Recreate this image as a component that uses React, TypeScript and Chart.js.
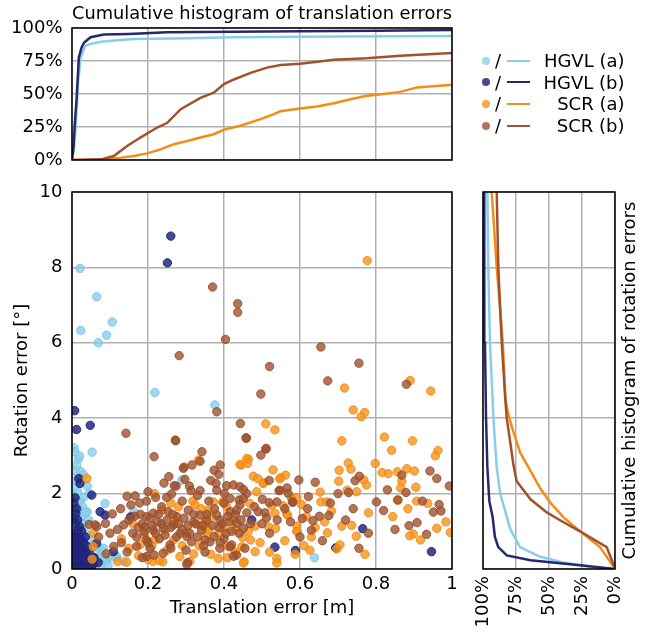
import React, { useEffect, useRef } from 'react';
import { Chart, registerables } from 'chart.js';
Chart.register(...registerables);

const FONT = "'DejaVu Sans', sans-serif";
const FS = 18;

const SERIES_LABELS = ['HGVL (a)', 'HGVL (b)', 'SCR (a)', 'SCR (b)'];
const TOP_TITLE = 'Cumulative histogram of translation errors';
const RIGHT_TITLE = 'Cumulative histogram of rotation errors';
const X_TITLE = 'Translation error [m]';
const Y_TITLE = 'Rotation error [°]';

const LINE_COLORS = ['#87ceeb', '#24286e', '#f58c14', '#a0522d'];
const POINT_FILL = ['rgba(135,206,235,0.8)', 'rgba(36,40,130,0.85)', 'rgba(247,146,26,0.8)', 'rgba(160,82,45,0.8)'];
const POINT_EDGE = ['rgba(120,195,228,0.9)', 'rgba(30,34,115,0.9)', 'rgba(240,135,15,0.85)', 'rgba(150,75,40,0.85)'];

// cumulative histogram of translation errors: [translation error, percent]
const transHGVLa = [[0,0],[0.005,8],[0.01,26],[0.016,59],[0.023,77.7],[0.03,83],[0.036,86.6],[0.05,88],[0.076,89.6],[0.12,90.8],[0.163,91.6],[0.3,92.3],[0.426,93],[0.7,93.5],[1,94]];
const transHGVLb = [[0,0],[0.004,10],[0.007,26],[0.012,46],[0.018,77.7],[0.025,85],[0.032,89],[0.049,93],[0.084,95],[0.15,95.5],[0.25,96.7],[0.6,97.5],[0.8,98],[1,98.5]];
const transSCRa = [[0,0],[0.08,0],[0.1,1],[0.13,1.8],[0.163,3],[0.198,5],[0.233,8],[0.268,12],[0.303,14.4],[0.338,17],[0.373,19.5],[0.4,23],[0.443,26],[0.496,31],[0.531,34.7],[0.549,37],[0.6,39],[0.645,40.5],[0.689,43],[0.733,46],[0.776,48.6],[0.82,50],[0.864,51.6],[0.908,55],[1,57]];
const transSCRb = [[0,0],[0.076,0.5],[0.11,3],[0.145,10.6],[0.18,17],[0.224,24.6],[0.25,28],[0.286,38.5],[0.338,47],[0.373,51],[0.4,57.5],[0.426,61],[0.47,66],[0.513,70],[0.549,72],[0.6,73],[0.645,74.4],[0.689,76],[0.776,77],[0.864,79],[1,81]];

// cumulative histogram of rotation errors: [percent, rotation error]
const rotHGVLa = [[0,0],[19,0.06],[39,0.17],[57,0.33],[72,0.58],[79.5,1.07],[83.3,1.55],[87,2.0],[89.6,2.7],[92,3.94],[94.7,6],[96,8],[96.7,10]];
const rotHGVLb = [[0,0],[26.5,0.1],[64,0.23],[82,0.36],[88.4,0.58],[91,0.85],[92.7,1.38],[95.2,1.8],[96.7,2.7],[97.7,4],[98.5,6],[99,10]];
const rotSCRa = [[0,0],[3.8,0.2],[11.4,0.58],[26.5,1.0],[39,1.37],[49,1.76],[57,2.16],[64,2.6],[72,3.1],[78,3.75],[80.8,4.1],[83,4.5],[85,6],[89.6,8],[93.4,10]];
const rotSCRb = [[0,0],[2,0.2],[6.3,0.58],[26.5,1.0],[39,1.24],[51.7,1.5],[64,1.85],[74.5,2.33],[77,2.77],[79.5,3.4],[82,4.0],[83,4.45],[85.8,6],[88.4,8],[89.6,10]];

// scatter: [translation error, rotation error]
const ptsHGVLa = [[0.021,7.97],[0.065,7.22],[0.023,6.33],[0.106,6.55],[0.091,6.2],[0.069,6.0],[0.218,4.68],[0.376,4.35],[0.005,3.22],[0.008,3.11],[0.053,3.1],[0.017,2.91],[0.008,2.64],[0.023,2.58],[0.289,2.36],[0.087,1.74],[0.04,1.52],[0.163,1.52],[0.078,0.5],[0.1,0.33],[0.118,0.33],[0.638,0.3],[0.083,0.55],[0.079,0.31],[0.114,0.31],[0.044,1.3],[0.026,1.08],[0.004,2.4],[0.012,2.3],[0.006,2.15],[0.015,2.05],[0.003,1.95],[0.01,1.85],[0.02,1.8],[0.03,1.9],[0.007,1.7],[0.018,1.62],[0.028,1.65],[0.004,1.55],[0.012,1.42],[0.024,1.4],[0.035,1.5],[0.006,1.28],[0.016,1.2],[0.03,1.18],[0.005,1.05],[0.012,0.95],[0.038,0.92],[0.045,0.8],[0.05,0.6],[0.06,0.45],[0.066,0.3],[0.09,0.22],[0.058,0.15],[0.075,0.12],[0.02,3.0],[0.012,2.75],[0.03,2.5],[0.04,2.2],[0.045,2.0],[0.135,0.2],[0.095,0.1]];
const ptsHGVLb = [[0.26,8.83],[0.251,8.12],[0.007,4.2],[0.048,3.81],[0.012,3.7],[0.018,2.4],[0.021,2.27],[0.052,1.96],[0.008,1.89],[0.01,1.48],[0.074,1.52],[0.087,1.43],[0.154,1.38],[0.065,0.68],[0.109,0.46],[0.056,0.28],[0.069,0.17],[0.473,1.3],[0.534,0.58],[0.588,0.49],[0.694,0.56],[0.765,1.07],[0.946,0.46],[0.005,1.75],[0.012,1.6],[0.004,1.35],[0.015,1.3],[0.008,1.2],[0.02,1.12],[0.003,0.95],[0.01,0.9],[0.018,0.85],[0.006,0.8],[0.014,0.75],[0.024,0.78],[0.03,0.7],[0.004,0.68],[0.011,0.62],[0.02,0.6],[0.028,0.55],[0.036,0.5],[0.002,0.55],[0.008,0.5],[0.016,0.45],[0.024,0.42],[0.032,0.38],[0.04,0.35],[0.046,0.3],[0.005,0.4],[0.012,0.35],[0.02,0.3],[0.028,0.25],[0.036,0.2],[0.044,0.15],[0.05,0.1],[0.003,0.25],[0.01,0.2],[0.018,0.15],[0.026,0.1],[0.034,0.08],[0.042,0.05],[0.006,0.1],[0.014,0.06],[0.022,0.04],[0.03,0.03],[0.038,0.02],[0.002,0.05],[0.008,0.02],[0.016,0.01],[0.048,0.22],[0.055,0.12],[0.04,0.6],[0.035,0.85],[0.025,1.0],[0.015,1.02],[0.045,0.45],[0.052,0.05],[0.058,0.3]];
const ptsSCRa = [[0.777,8.18],[0.89,5.0],[0.717,4.8],[0.944,4.72],[0.74,4.22],[0.77,4.15],[0.761,4.04],[0.51,3.85],[0.534,3.69],[0.71,3.4],[0.822,3.5],[0.896,3.4],[0.841,3.15],[0.963,3.14],[0.956,3.0],[0.464,2.91],[0.442,2.77],[0.727,2.81],[0.703,2.62],[0.734,2.65],[0.798,2.8],[0.816,2.56],[0.832,2.53],[0.856,2.58],[0.881,2.66],[0.901,2.6],[0.529,2.63],[0.477,2.46],[0.549,2.42],[0.562,2.49],[0.503,2.27],[0.768,2.36],[0.775,2.23],[0.702,2.33],[0.868,2.33],[0.865,2.15],[0.905,2.17],[0.724,2.09],[0.749,2.05],[0.653,2.04],[0.592,1.9],[0.604,1.71],[0.655,1.78],[0.67,1.78],[0.856,1.83],[0.907,1.8],[0.936,1.74],[0.884,1.6],[0.78,1.49],[0.683,1.54],[0.844,1.39],[0.617,1.39],[0.567,1.43],[0.984,1.25],[0.996,0.97],[0.96,1.08],[0.898,0.93],[0.889,0.88],[0.917,0.77],[0.71,1.14],[0.672,0.96],[0.748,0.87],[0.592,1.14],[0.593,0.99],[0.705,0.64],[0.697,0.53],[0.771,0.39],[0.587,0.39],[0.626,0.5],[0.736,1.16],[0.665,1.25],[0.333,2.89],[0.46,2.93],[0.445,2.76],[0.462,2.8],[0.489,2.4],[0.505,2.29],[0.547,2.39],[0.486,2.05],[0.217,2.0],[0.318,1.8],[0.372,1.78],[0.396,1.78],[0.468,1.74],[0.578,1.87],[0.525,1.68],[0.556,1.68],[0.534,1.48],[0.482,1.14],[0.517,1.12],[0.536,1.08],[0.565,1.46],[0.591,1.0],[0.464,1.0],[0.449,0.84],[0.47,0.77],[0.495,0.7],[0.447,0.59],[0.539,0.28],[0.482,0.46],[0.409,0.3],[0.453,0.19],[0.365,0.39],[0.386,0.95],[0.368,1.39],[0.359,1.56],[0.324,1.7],[0.332,1.17],[0.354,0.95],[0.335,0.61],[0.267,0.77],[0.236,1.56],[0.218,0.77],[0.239,0.19],[0.284,0.33],[0.385,0.28],[0.425,1.3],[0.407,1.65],[0.039,2.4],[0.056,0.95],[0.056,0.59],[0.053,0.26],[0.144,0.18],[0.213,0.2],[0.23,0.22],[0.12,0.2],[0.15,0.55],[0.175,0.35],[0.2,0.25],[0.19,0.9],[0.16,1.2],[0.13,0.8],[0.25,0.5],[0.27,1.3],[0.3,0.95],[0.31,0.2],[0.28,1.65],[0.35,1.25],[0.41,0.6],[0.43,1.05],[0.52,0.45],[0.56,0.75],[0.63,0.85],[0.64,1.1],[0.61,0.62],[0.451,0.16],[0.539,0.16],[0.21,0.6],[0.245,1.05],[0.29,0.62],[0.32,0.4],[0.36,1.05],[0.4,1.1],[0.43,0.45],[0.34,1.6],[0.26,1.75],[0.18,0.65]];
const ptsSCRb = [[0.37,7.48],[0.436,7.04],[0.436,6.81],[0.404,6.09],[0.282,5.66],[0.655,5.89],[0.755,5.46],[0.52,5.37],[0.88,4.9],[0.673,4.99],[0.497,4.64],[0.381,4.17],[0.459,3.47],[0.142,3.6],[0.272,3.42],[0.443,3.86],[0.458,3.48],[0.216,2.98],[0.342,3.11],[0.295,2.7],[0.274,2.2],[0.145,1.93],[0.166,1.94],[0.106,1.46],[0.045,1.18],[0.065,1.12],[0.51,3.18],[0.497,3.02],[0.942,2.6],[0.868,2.49],[0.519,2.35],[0.597,2.36],[0.756,2.46],[0.745,2.34],[0.879,2.03],[0.993,2.2],[0.728,2.03],[0.566,2.15],[0.545,2.08],[0.622,1.92],[0.58,1.78],[0.801,1.78],[0.858,1.83],[0.922,1.8],[0.966,1.71],[0.951,1.51],[0.971,1.54],[0.676,1.42],[0.651,1.4],[0.634,1.28],[0.606,1.34],[0.908,1.23],[0.887,1.15],[0.933,0.92],[0.63,1.03],[0.659,0.75],[0.755,0.55],[0.273,3.4],[0.337,2.86],[0.316,2.76],[0.293,2.67],[0.39,2.76],[0.374,2.62],[0.386,2.51],[0.511,3.2],[0.297,2.38],[0.242,2.28],[0.269,2.21],[0.309,2.2],[0.313,2.08],[0.337,2.08],[0.379,2.27],[0.381,2.09],[0.407,2.21],[0.425,2.23],[0.442,2.18],[0.451,2.11],[0.46,2.0],[0.401,2.0],[0.196,1.8],[0.262,1.99],[0.249,1.9],[0.416,1.87],[0.44,1.83],[0.451,1.87],[0.501,1.85],[0.519,1.76],[0.539,1.78],[0.547,2.09],[0.569,2.0],[0.581,1.77],[0.508,1.49],[0.512,1.36],[0.49,1.52],[0.46,1.49],[0.433,0.37],[0.425,0.34],[0.416,0.59],[0.389,0.55],[0.374,0.86],[0.387,1.1],[0.389,1.3],[0.381,1.43],[0.354,1.3],[0.337,1.43],[0.306,1.56],[0.319,1.25],[0.341,1.03],[0.363,0.72],[0.35,0.77],[0.346,0.61],[0.315,0.72],[0.302,0.86],[0.284,0.95],[0.267,1.17],[0.276,1.39],[0.253,1.52],[0.236,1.65],[0.214,1.48],[0.196,1.39],[0.192,1.12],[0.214,1.03],[0.24,1.08],[0.196,0.77],[0.196,0.33],[0.24,0.42],[0.258,0.64],[0.304,0.17],[0.216,0.37],[0.42,0.64],[0.451,1.08],[0.433,1.21],[0.416,1.52],[0.433,1.56],[0.442,1.7],[0.061,1.17],[0.088,1.21],[0.136,1.17],[0.07,0.85],[0.1,0.95],[0.12,1.05],[0.13,0.7],[0.15,1.3],[0.16,0.95],[0.175,1.1],[0.18,1.45],[0.17,0.6],[0.145,0.45],[0.185,0.3],[0.205,0.55],[0.225,1.25],[0.23,0.8],[0.11,0.6],[0.09,0.4],[0.128,1.6],[0.155,1.7],[0.178,1.75],[0.2,2.05],[0.22,1.9],[0.255,2.45],[0.29,1.8],[0.32,1.45],[0.33,1.95],[0.36,1.8],[0.365,2.35],[0.4,1.75],[0.41,1.4],[0.42,1.0],[0.4,0.8],[0.44,0.95],[0.455,0.55],[0.47,1.2],[0.48,1.65],[0.5,1.2],[0.52,0.95],[0.54,1.3],[0.56,1.6],[0.575,1.25],[0.6,0.85],[0.62,1.6],[0.68,1.75],[0.7,2.0],[0.72,1.3],[0.78,0.95],[0.82,1.55],[0.85,1.05],[0.74,1.6],[0.64,2.3],[0.83,2.1],[0.96,2.4],[0.302,0.12],[0.185,1.2],[0.19,0.98],[0.205,1.35],[0.21,1.15],[0.22,0.95],[0.228,1.45],[0.235,1.2],[0.245,0.9],[0.25,1.3],[0.26,1.1],[0.265,1.45],[0.275,0.85],[0.28,1.2],[0.29,1.05],[0.295,1.35],[0.305,1.15],[0.31,0.95],[0.325,1.2],[0.33,0.85],[0.345,1.15],[0.355,1.45],[0.37,1.15],[0.375,1.6],[0.395,1.2],[0.405,0.95],[0.415,1.25],[0.43,1.45],[0.445,1.3],[0.165,1.4],[0.17,0.85],[0.2,0.7],[0.26,0.55],[0.3,0.5],[0.35,0.45],[0.39,0.7]];

const TRANS_CURVES = [transHGVLa, transHGVLb, transSCRa, transSCRb];
const ROT_CURVES = [rotHGVLa, rotHGVLb, rotSCRa, rotSCRb];
const SCATTER = [ptsHGVLa, ptsHGVLb, ptsSCRa, ptsSCRb];

const GRID = { color: '#b0b0b0', lineWidth: 1.5, drawTicks: false };
const TICK_FONT = { family: FONT, size: FS };

const clearPad = (s: any) => {
  s.paddingTop = 0;
  s.paddingBottom = 0;
  s.paddingLeft = 0;
  s.paddingRight = 0;
};
const fixW = (w: number) => (s: any) => { s.width = w; clearPad(s); };
const fixH = (h: number) => (s: any) => { s.height = h; clearPad(s); };

const framePlugin = {
  id: 'frame',
  afterDatasetsDraw(chart: any) {
    const { ctx, chartArea: a } = chart;
    ctx.save();
    ctx.strokeStyle = '#000';
    ctx.lineWidth = 1.5;
    ctx.strokeRect(a.left, a.top, a.right - a.left, a.bottom - a.top);
    ctx.restore();
  },
};

const sideTitlePlugin = {
  id: 'sideTitle',
  afterDraw(chart: any) {
    const { ctx, chartArea: a } = chart;
    ctx.save();
    ctx.translate(a.right + 15.5, (a.top + a.bottom) / 2);
    ctx.rotate(-Math.PI / 2);
    ctx.font = `${FS}px ${FONT}`;
    ctx.fillStyle = '#000';
    ctx.textAlign = 'center';
    ctx.textBaseline = 'middle';
    ctx.fillText(RIGHT_TITLE, 0, 0);
    ctx.restore();
  },
};

const basePlugins = { legend: { display: false }, tooltip: { enabled: false } };

export default function App() {
  const topRef = useRef<HTMLCanvasElement>(null);
  const mainRef = useRef<HTMLCanvasElement>(null);
  const rightRef = useRef<HTMLCanvasElement>(null);

  useEffect(() => {
    Chart.defaults.font.family = FONT;
    Chart.defaults.font.size = FS;
    Chart.defaults.color = '#000';
    const order = [3, 2, 1, 0];

    const top = new Chart(topRef.current!, {
      type: 'line',
      data: {
        datasets: order.map((i) => ({
          label: SERIES_LABELS[i],
          data: TRANS_CURVES[i].map(([x, y]) => ({ x, y })),
          borderColor: LINE_COLORS[i],
          borderWidth: 2.5,
          pointRadius: 0,
          fill: false,
          tension: 0,
        })),
      },
      options: {
        responsive: false,
        animation: false,
        events: [],
        layout: { padding: { top: 0, right: 18, bottom: 0, left: 0 } },
        plugins: {
          ...basePlugins,
          title: {
            display: true,
            text: TOP_TITLE,
            fullSize: false,
            color: '#000',
            font: { family: FONT, size: FS, weight: 'normal' },
            padding: { top: 3.2, bottom: 3.2 },
          },
        },
        scales: {
          x: {
            type: 'linear', min: 0, max: 1,
            ticks: { display: false, stepSize: 0.2 },
            grid: GRID, border: { display: false },
            afterFit: fixH(15),
          },
          y: {
            type: 'linear', min: 0, max: 100,
            ticks: { stepSize: 25, padding: 9.5, color: '#000', font: TICK_FONT, callback: (v: any) => v + '%' },
            grid: GRID, border: { display: false },
            afterFit: fixW(72),
          },
        },
      } as any,
      plugins: [framePlugin],
    });

    const main = new Chart(mainRef.current!, {
      type: 'scatter',
      data: {
        datasets: order.map((i) => ({
          label: SERIES_LABELS[i],
          data: SCATTER[i].map(([x, y]) => ({ x, y })),
          backgroundColor: POINT_FILL[i],
          borderColor: POINT_EDGE[i],
          borderWidth: 1,
          pointRadius: 4.2,
          clip: 0,
        })),
      },
      options: {
        responsive: false,
        animation: false,
        events: [],
        layout: { padding: { top: 12, right: 18, bottom: 0, left: 0 } },
        plugins: basePlugins,
        scales: {
          x: {
            type: 'linear', min: 0, max: 1,
            ticks: { stepSize: 0.2, padding: 4.2, color: '#000', font: TICK_FONT, callback: (v: any) => String(Math.round(v * 10) / 10) },
            grid: GRID, border: { display: false },
            title: { display: true, text: X_TITLE, color: '#000', font: TICK_FONT, padding: { top: 0, bottom: 13.2 } },
            afterFit: fixH(63),
          },
          y: {
            type: 'linear', min: 0, max: 10,
            ticks: { stepSize: 2, padding: 9.5, color: '#000', font: TICK_FONT },
            grid: GRID, border: { display: false },
            title: { display: true, text: Y_TITLE, color: '#000', font: TICK_FONT, padding: { top: 11.2, bottom: 0 } },
            afterFit: fixW(72),
          },
        },
      } as any,
      plugins: [framePlugin],
    });

    const right = new Chart(rightRef.current!, {
      type: 'line',
      data: {
        datasets: order.map((i) => ({
          label: SERIES_LABELS[i],
          data: ROT_CURVES[i].map(([x, y]) => ({ x, y })),
          borderColor: LINE_COLORS[i],
          borderWidth: 2.5,
          pointRadius: 0,
          fill: false,
          tension: 0,
        })),
      },
      options: {
        responsive: false,
        animation: false,
        events: [],
        layout: { padding: { top: 12, right: 46, bottom: 0, left: 0 } },
        plugins: basePlugins,
        scales: {
          x: {
            type: 'linear', min: 0, max: 100, reverse: true,
            ticks: { stepSize: 25, padding: 7, minRotation: 90, maxRotation: 90, autoSkip: false, color: '#000', font: TICK_FONT, callback: (v: any) => v + '%' },
            grid: GRID, border: { display: false },
            afterFit: fixH(63),
          },
          y: {
            type: 'linear', min: 0, max: 10,
            ticks: { display: false, stepSize: 2 },
            grid: GRID, border: { display: false },
            afterFit: fixW(13),
          },
        },
      } as any,
      plugins: [framePlugin, sideTitlePlugin],
    });

    return () => {
      top.destroy();
      main.destroy();
      right.destroy();
    };
  }, []);

  const textStyle: React.CSSProperties = { fontFamily: FONT, fontSize: FS, lineHeight: '21px', color: '#000', whiteSpace: 'nowrap' };

  return (
    <div style={{ position: 'absolute', left: 0, top: 0, width: 661, height: 632, background: '#fff' }}>
      <canvas ref={topRef} width={470} height={175} style={{ position: 'absolute', left: 0, top: 0 }} />
      <canvas ref={mainRef} width={470} height={452} style={{ position: 'absolute', left: 0, top: 180 }} />
      <canvas ref={rightRef} width={191} height={452} style={{ position: 'absolute', left: 470, top: 180 }} />
      {SERIES_LABELS.map((label, i) => (
        <div key={label} style={{ position: 'absolute', left: 0, top: 50.2 + 21.6 * i, width: 661, height: 21 }}>
          <div style={{ position: 'absolute', left: 482, top: 6.5, width: 8, height: 8, borderRadius: '50%', background: POINT_FILL[i] }} />
          <div style={{ ...textStyle, position: 'absolute', left: 495, top: 0 }}>/</div>
          <div style={{ position: 'absolute', left: 507, top: 9.5, width: 23, height: 2, background: LINE_COLORS[i] }} />
          <div style={{ ...textStyle, position: 'absolute', left: 530, width: 94.5, top: 0, textAlign: 'right' }}>{label}</div>
        </div>
      ))}
    </div>
  );
}
